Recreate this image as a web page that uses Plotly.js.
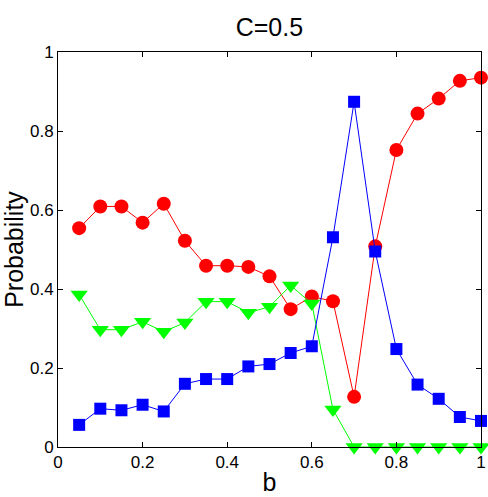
<!DOCTYPE html>
<html>
<head>
<meta charset="utf-8">
<script src="https://cdn.plot.ly/plotly-3.0.1.min.js"></script>
<style>html,body{margin:0;padding:0;background:#fff;}#chart{width:488px;height:497px;}</style>
</head>
<body>
<div id="chart"></div>
<script>
const b = [0.05,0.1,0.15,0.2,0.25,0.3,0.35,0.4,0.45,0.5,0.55,0.6,0.65,0.7,0.75,0.8,0.85,0.9,0.95,1.0];
const redVals = [0.554,0.609,0.609,0.568,0.616,0.522,0.459,0.459,0.456,0.432,0.349,0.381,0.369,0.127,0.508,0.752,0.844,0.882,0.927,0.935];
const greenVals = [0.386,0.297,0.297,0.317,0.292,0.315,0.368,0.368,0.340,0.355,0.409,0.363,0.095,0,0,0,0,0,0,0];
const blueVals = [0.056,0.097,0.093,0.107,0.090,0.160,0.172,0.172,0.204,0.210,0.238,0.255,0.531,0.874,0.495,0.248,0.158,0.122,0.076,0.066];
const tickVals = [0,0.2,0.4,0.6,0.8,1];
const tickText = ['0','0.2','0.4','0.6','0.8','1'];

const font = 'Liberation Sans, Arial, sans-serif';
const traces = [
  {x:b, y:redVals, mode:'lines+markers', line:{color:'#ff0000', width:1}, marker:{symbol:'circle', size:14, color:'#ff0000'}, cliponaxis:false},
  {x:b, y:greenVals, mode:'lines+markers', line:{color:'#00ff00', width:1}, marker:{symbol:'triangle-down', size:15, color:'#00ff00'}, cliponaxis:false},
  {x:b, y:blueVals, mode:'lines+markers', line:{color:'#0000ff', width:1}, marker:{symbol:'square', size:12, color:'#0000ff'}, cliponaxis:false}
];
const axisCommon = {
  range:[0,1], showgrid:false, zeroline:false, showline:true, linecolor:'#000', linewidth:1,
  mirror:'ticks', ticks:'inside', ticklen:5, tickcolor:'#000', tickwidth:1,
  tickvals:tickVals, ticktext:tickText, tickfont:{family:font, size:17, color:'#000'}
};
const layout = {
  width:488, height:497,
  margin:{l:58, r:7, t:52, b:50},
  paper_bgcolor:'#fff', plot_bgcolor:'#fff',
  showlegend:false,
  title:{text:'C=0.5', font:{family:font, size:25, color:'#000'}, x:0.552, xanchor:'center', y:0.945, yanchor:'middle'},
  xaxis:Object.assign({}, axisCommon, {ticklabelstandoff:0, title:{text:'b', font:{family:font, size:25, color:'#000'}, standoff:2}}),
  yaxis:Object.assign({}, axisCommon, {ticklabelstandoff:0, title:{text:'Probability', font:{family:font, size:25, color:'#000'}, standoff:2}})
};
Plotly.newPlot('chart', traces, layout, {displayModeBar:false, staticPlot:true});
</script>
</body>
</html>
